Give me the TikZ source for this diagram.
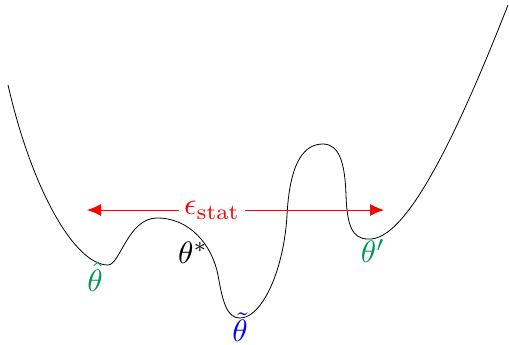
\documentclass[tikz,border=0pt]{standalone}
\usetikzlibrary{arrows.meta}
\definecolor{lblgreen}{RGB}{0,150,90}
\tikzset{
  curve/.style={black, line width=0.4pt},
  epsarrow/.style={red, line width=0.5pt, -{Latex[length=7pt,width=6pt]}},
  lbl/.style={inner sep=0.5pt, scale=1.55}
}
\begin{document}
\begin{tikzpicture}[x=0.5pt,y=-0.5pt]
\useasboundingbox (0,0) rectangle (509,344);
\draw[curve] (8,85) .. controls (32,190) and (75,265) .. (108,265)
  .. controls (120,265) and (128,218) .. (157,218)
  .. controls (190,218) and (212,245) .. (218,275)
  .. controls (223,305) and (228,318) .. (240,318)
  .. controls (262,318) and (284,270) .. (287,215)
  .. controls (290,160) and (305,144) .. (323,144)
  .. controls (340,144) and (345,165) .. (346,195)
  .. controls (347,225) and (352,239) .. (368,239)
  .. controls (405,242) and (455,140) .. (508,5);
\node[lbl, text=red, inner sep=1.5pt] (eps) at (212,210) {$\epsilon_{\mathrm{stat}}$};
\coordinate (L) at (87,210);
\coordinate (R) at (384,210);
\draw[epsarrow] (eps.west) -- (L);
\draw[epsarrow] (eps.east) -- (R);
\node[lbl, text=lblgreen] (th1) at (95,277) {$\hat{\theta}$};
\node[lbl, text=blue] (th2) at (240,327) {$\tilde{\theta}$};
\node[lbl, text=lblgreen] (th3) at (373,251) {$\theta'$};
\node[lbl] (ths) at (193,253) {$\theta^{*}$};
\end{tikzpicture}
\end{document}
